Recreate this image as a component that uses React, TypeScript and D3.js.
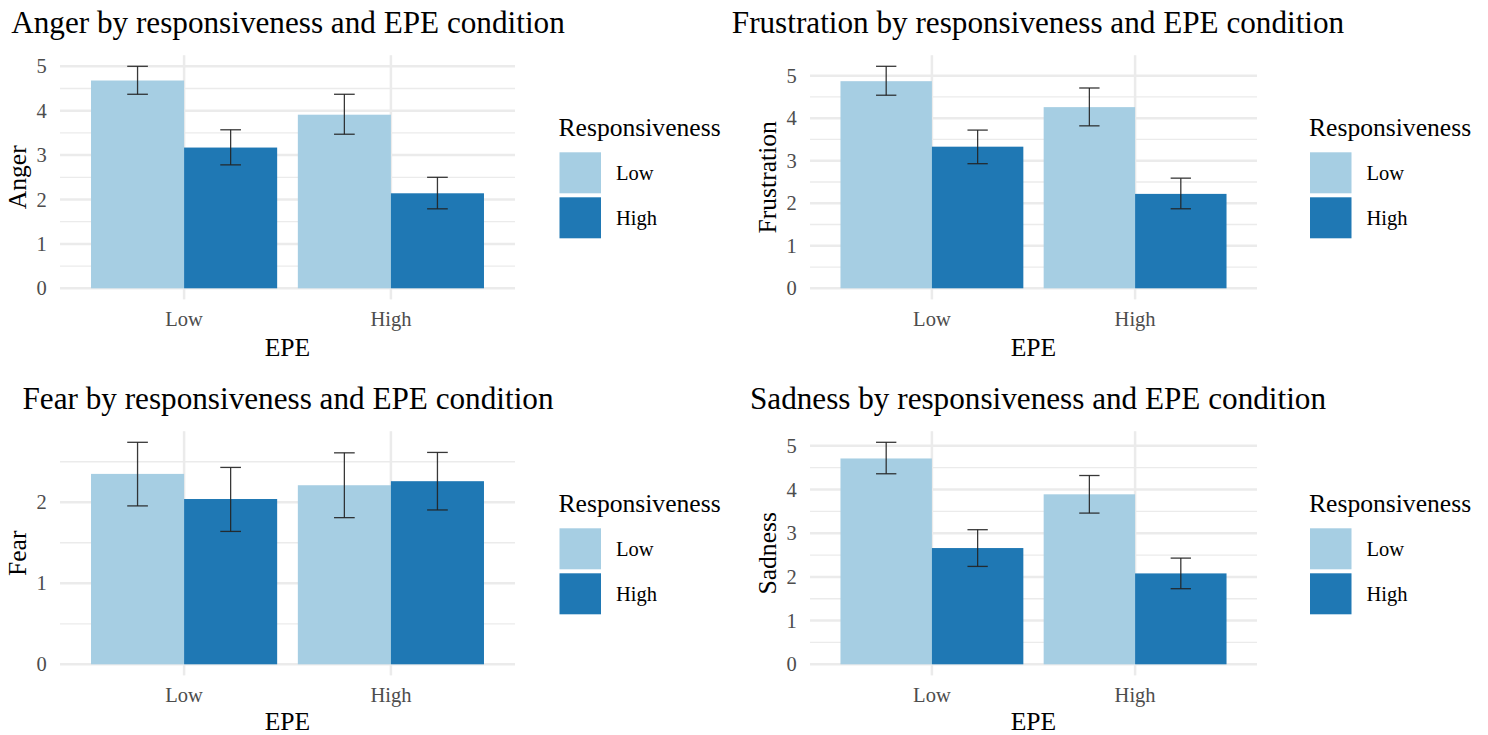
import React from "react";
import * as d3 from "d3";

// ---- data ----
const epeLevels = ["Low", "High"];
const respLevels = ["Low", "High"];
const respColors = ["#a6cee3", "#1f78b4"];

// order: [EPE Low / Resp Low, EPE Low / Resp High, EPE High / Resp Low, EPE High / Resp High]
const angerMeans = [4.68, 3.17, 3.91, 2.14];
const angerLower = [4.37, 2.78, 3.47, 1.79];
const angerUpper = [5.0, 3.57, 4.37, 2.5];

const frustrationMeans = [4.87, 3.33, 4.26, 2.22];
const frustrationLower = [4.54, 2.93, 3.82, 1.87];
const frustrationUpper = [5.22, 3.72, 4.71, 2.59];

const fearMeans = [2.35, 2.04, 2.21, 2.26];
const fearLower = [1.955, 1.64, 1.81, 1.905];
const fearUpper = [2.74, 2.43, 2.61, 2.615];

const sadnessMeans = [4.71, 2.66, 3.89, 2.08];
const sadnessLower = [4.36, 2.24, 3.46, 1.73];
const sadnessUpper = [5.08, 3.08, 4.32, 2.43];

const ticks0to5 = [0, 1, 2, 3, 4, 5];
const ticks0to2 = [0, 1, 2];

const panels = [
  { title: "Anger by responsiveness and EPE condition", ylab: "Anger", means: angerMeans, lower: angerLower, upper: angerUpper, ticks: ticks0to5, col: 0, row: 0 },
  { title: "Frustration by responsiveness and EPE condition", ylab: "Frustration", means: frustrationMeans, lower: frustrationLower, upper: frustrationUpper, ticks: ticks0to5, col: 1, row: 0 },
  { title: "Fear by responsiveness and EPE condition", ylab: "Fear", means: fearMeans, lower: fearLower, upper: fearUpper, ticks: ticks0to2, col: 0, row: 1 },
  { title: "Sadness by responsiveness and EPE condition", ylab: "Sadness", means: sadnessMeans, lower: sadnessLower, upper: sadnessUpper, ticks: ticks0to5, col: 1, row: 1 },
];

const FONT = "'Liberation Serif', 'Times New Roman', serif";

function Panel({ p }: { p: any }) {
  const ox = p.col * 750;
  const oy = p.row * 376;
  const px0 = 60;
  const px1 = p.col === 0 ? 515 : 507;
  const pyTop = 55.2;
  const pyBot = 299.4;
  const maxHi = d3.max(p.upper as number[]) as number;
  const y = d3.scaleLinear().domain([-0.05 * maxHi, 1.05 * maxHi]).range([pyBot, pyTop]);
  const x = d3.scaleLinear().domain([0.4, 2.6]).range([px0, px1]);
  const band = x(2) - x(1);
  const barW = band * 0.45;
  const errW = band * 0.1;
  const step = p.ticks[1] - p.ticks[0];
  const [d0, d1] = y.domain();
  const minor: number[] = [];
  [p.ticks[0] - step, ...p.ticks].forEach((t: number) => {
    const m = t + step / 2;
    if (m >= d0 && m <= d1) minor.push(m);
  });
  const bars: any[] = [];
  epeLevels.forEach((e, ei) => {
    respLevels.forEach((r, ri) => {
      const idx = ei * 2 + ri;
      const cx = x(ei + 1) + (ri === 0 ? -barW / 2 : barW / 2);
      bars.push({ idx, cx, ri, mean: p.means[idx], lo: p.lower[idx], hi: p.upper[idx] });
    });
  });
  const titleCx = 288;
  const panelCx = (px0 + px1) / 2;
  return (
    <g transform={`translate(${ox},${oy})`} fontFamily={FONT}>
      <text x={titleCx} y={33} fontSize={31.2} textAnchor="middle" fill="#000">{p.title}</text>
      {minor.map((m) => (
        <line key={"mn" + m} x1={px0} x2={px1} y1={y(m)} y2={y(m)} stroke="#ebebeb" strokeWidth={1.3} />
      ))}
      {p.ticks.map((t: number) => (
        <line key={"mj" + t} x1={px0} x2={px1} y1={y(t)} y2={y(t)} stroke="#ebebeb" strokeWidth={2.5} />
      ))}
      {epeLevels.map((e, i) => (
        <line key={"vx" + e} x1={x(i + 1)} x2={x(i + 1)} y1={pyTop} y2={pyBot} stroke="#ebebeb" strokeWidth={2.5} />
      ))}
      {bars.map((b) => (
        <rect key={"b" + b.idx} x={b.cx - barW / 2} y={y(b.mean)} width={barW} height={y(0) - y(b.mean)} fill={respColors[b.ri]} />
      ))}
      {bars.map((b) => (
        <g key={"e" + b.idx} stroke="#222" strokeWidth={1.3} strokeOpacity={0.9}>
          <line x1={b.cx} x2={b.cx} y1={y(b.lo)} y2={y(b.hi)} />
          <line x1={b.cx - errW / 2} x2={b.cx + errW / 2} y1={y(b.lo)} y2={y(b.lo)} />
          <line x1={b.cx - errW / 2} x2={b.cx + errW / 2} y1={y(b.hi)} y2={y(b.hi)} />
        </g>
      ))}
      {p.ticks.map((t: number) => (
        <text key={"yt" + t} x={46.7} y={y(t)} dy="0.35em" fontSize={20.5} textAnchor="end" fill="#4d4d4d">{t}</text>
      ))}
      {epeLevels.map((e, i) => (
        <text key={"xt" + e} x={x(i + 1)} y={319.3} dy="0.35em" fontSize={20.5} textAnchor="middle" fill="#4d4d4d">{e}</text>
      ))}
      <text x={panelCx} y={p.row === 1 ? 345.2 : 346.7} dy="0.35em" fontSize={25.6} textAnchor="middle" fill="#000">EPE</text>
      <text transform={`translate(16.7,${(pyTop + pyBot) / 2}) rotate(-90)`} dy="0.35em" fontSize={25.6} textAnchor="middle" fill="#000">{p.ylab}</text>
      <g transform={`translate(${p.col === 0 ? 559.5 : 560},0)`}>
        <text x={-1} y={127} dy="0.35em" fontSize={25.6} fill="#000">Responsiveness</text>
        {respLevels.map((r, i) => (
          <g key={"lg" + r}>
            <rect x={0} y={152.3 + i * 45} width={41.5} height={41} fill={respColors[i]} />
            <text x={56.5} y={152.3 + i * 45 + 20.5} dy="0.35em" fontSize={20.5} fill="#000">{r}</text>
          </g>
        ))}
      </g>
    </g>
  );
}

export default function App() {
  return (
    <svg width={1488} height={735} style={{ display: "block", position: "absolute", left: 0, top: 0, background: "#fff" }}>
      <rect width={1488} height={735} fill="#fff" />
      {panels.map((p) => (
        <Panel key={p.ylab} p={p} />
      ))}
    </svg>
  );
}
